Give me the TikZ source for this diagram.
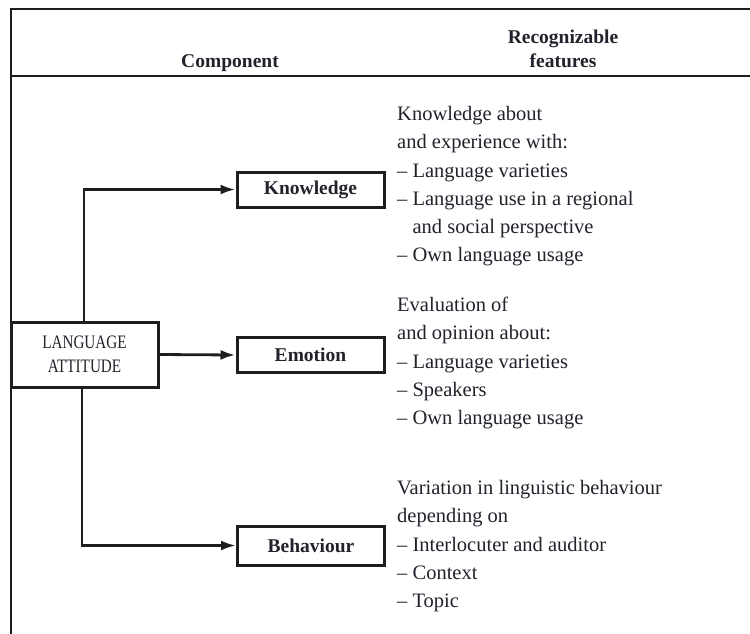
\documentclass[tikz,border=0pt]{standalone}
\usepackage{fontspec}
\setmainfont{Liberation Serif}
\usetikzlibrary{arrows.meta}
\definecolor{ink}{HTML}{1E1E1E}
\definecolor{txt}{HTML}{22222C}
\tikzset{
  frameline/.style={draw=ink, line width=2.8pt},
  compbox/.style={draw=ink, line width=3pt, minimum width=147pt, minimum height=35pt,
    inner sep=0pt, font=\fontsize{19.5}{22}\selectfont\bfseries, text=txt},
  rootbox/.style={draw=ink, line width=3pt, minimum width=147pt, minimum height=65pt,
    inner sep=0pt, align=center, font=\fontsize{19}{24}\selectfont, text=txt},
  feat/.style={anchor=north west, inner sep=0pt, align=left, text=txt,
    font=\fontsize{20.5}{28.3}\selectfont},
  head/.style={inner sep=0pt, align=center, text=txt, font=\fontsize{19.5}{24}\selectfont\bfseries},
  conn/.style={draw=ink, line width=2.8pt},
  arr/.style={conn, -{Latex[length=15pt,width=10pt]}}
}
\newcommand{\dashind}{\phantom{– }}
\begin{document}
\begin{tikzpicture}[x=1pt,y=-1pt]
\useasboundingbox (0,0) rectangle (750,633);
% frame
\coordinate (fTL) at (11,9);
\coordinate (fTR) at (752,9);
\coordinate (fBL) at (11,640);
\coordinate (hL) at (11,76);
\coordinate (hR) at (752,76);
\draw[frameline] (fTR) -- (fTL) -- (fBL);
\draw[frameline] (hL) -- (hR);
% headers
\node[head, anchor=base] (hcomp) at (230,67) {Component};
\node[head, anchor=base] (hfeat) at (563,67) {Recognizable\\features};
% boxes
\node[rootbox] (root) at (84.5,354.5) {\scalebox{0.8}[1]{LANGUAGE}\\\scalebox{0.8}[1]{ATTITUDE}};
\node[compbox] (know) at (310.5,189.5) {Knowledge};
\node[compbox] (emo) at (310.5,355) {Emotion};
\node[compbox, minimum height=39pt] (beh) at (311,545.5) {Behaviour};
% connectors
\coordinate (kc) at (84,189.5);
\coordinate (bc) at (82,545.5);
\draw[arr] (root.north -| kc) -- (kc) -- (know.west);
\draw[arr] (root.east) -- (emo.west);
\draw[arr] (root.south -| bc) -- (bc) -- (beh.west);
% features
\node[feat] (fk) at (397,106) {Knowledge about\\and experience with:\\– Language varieties\\– Language use in a regional\\\dashind and social perspective\\– Own language usage};
\node[feat] (fe) at (397,297) {Evaluation of\\and opinion about:\\– Language varieties\\– Speakers\\– Own language usage};
\node[feat] (fb) at (397,480) {Variation in linguistic behaviour\\depending on\\– Interlocuter and auditor\\– Context\\– Topic};
\end{tikzpicture}
\end{document}
